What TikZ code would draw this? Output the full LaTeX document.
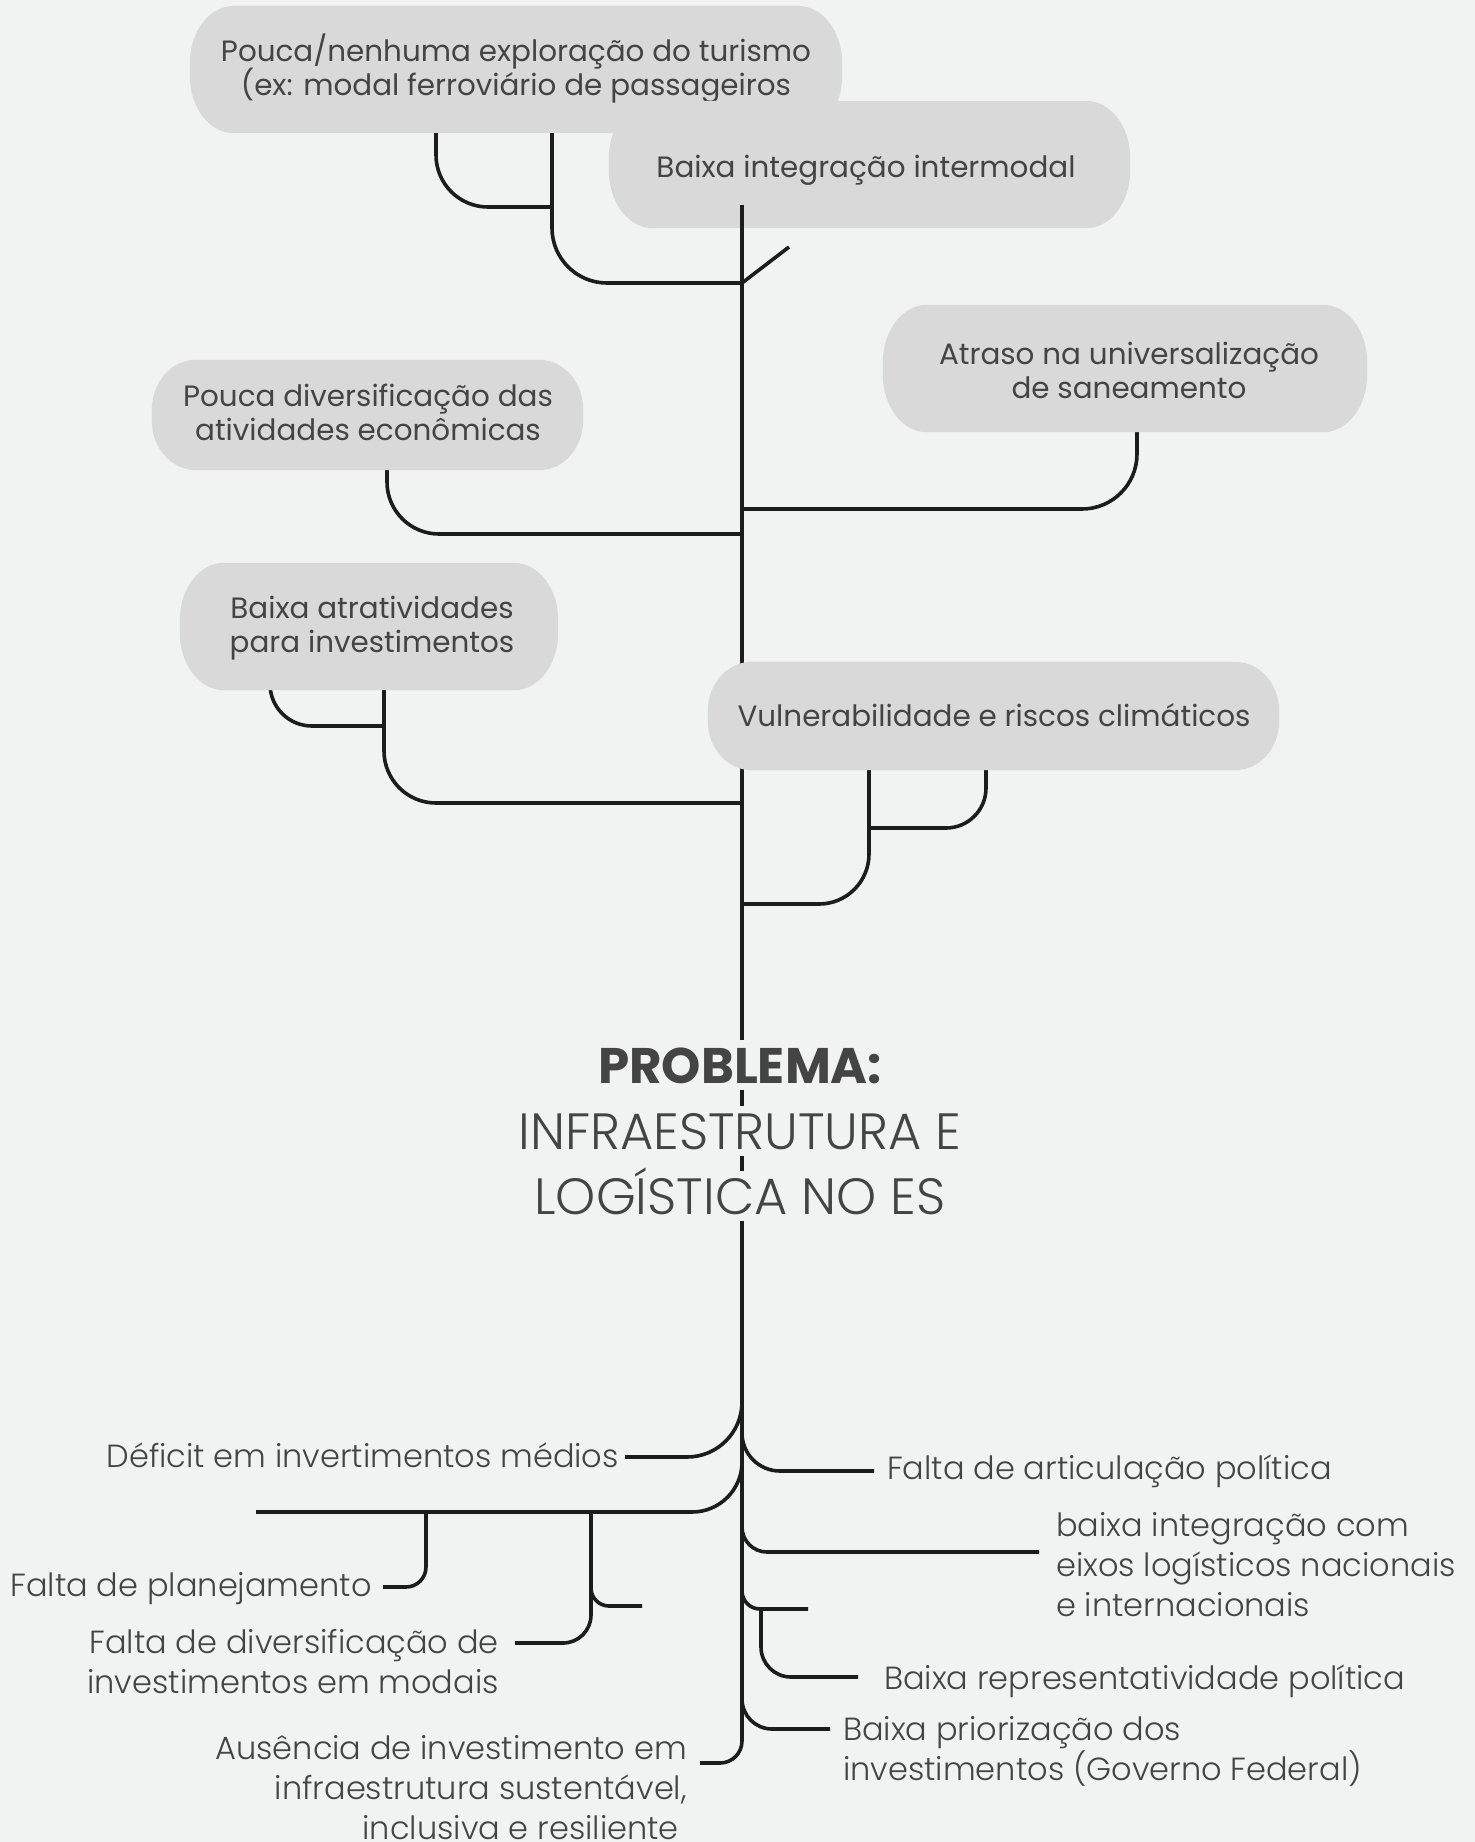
\documentclass[tikz,border=0pt]{standalone}
\usepackage{fontspec}
\setmainfont{Poppins}
\newfontfamily\poplight{Poppins Light}
\usetikzlibrary{calc}

\definecolor{paper}{HTML}{F1F3F2}
\definecolor{pillgray}{HTML}{D9D9D9}
\definecolor{ink}{HTML}{444444}
\definecolor{wire}{HTML}{1C1C1C}

% keep a fixed baseline distance even with tall glyphs
\newcommand\fixedlines{\lineskiplimit=-100pt\relax}

% soft pill: rectangle with elliptical corners, filled behind a placed node
\newcommand\pillfill[1]{%
  \fill[pillgray] let \p1=(#1.south west), \p2=(#1.north east),
      \n1={44pt}, \n2={0.45*(\y2-\y1)} in
    (\x1+\n1,\y1) -- (\x2-\n1,\y1)
    arc[start angle=-90, end angle=0, x radius=\n1, y radius=\n2]
    -- (\x2,\y2-\n2)
    arc[start angle=0, end angle=90, x radius=\n1, y radius=\n2]
    -- (\x1+\n1,\y2)
    arc[start angle=90, end angle=180, x radius=\n1, y radius=\n2]
    -- (\x1,\y1+\n2)
    arc[start angle=180, end angle=270, x radius=\n1, y radius=\n2]
    -- cycle;}

\begin{document}
\begin{tikzpicture}[x=1pt, y=-1pt,
  wire/.style={draw=wire, line width=3.6pt},
  pillbox/.style n args={2}{minimum width=#1, minimum height=#2, inner sep=0pt},
  % multi-line nodes sit on the baseline of their last line
  boxtext/.style={text=ink, font={\fontsize{29.4}{34}\selectfont\fixedlines},
                  align=center, anchor=base, inner sep=0pt},
  cause/.style={text=ink, font={\poplight\fontsize{32}{40}\selectfont\fixedlines},
                inner sep=0pt},
  headline/.style={text=ink, fill=paper, inner xsep=4pt, inner ysep=7pt,
                   text height=36pt, text depth=0pt, anchor=base}]

\useasboundingbox (0,0) rectangle (1475,1842);
\fill[paper] (0,0) rectangle (1475,1842);

% frames of the cause boxes
\node[pillbox={652pt}{127pt}] (tourism) at (516,69.5) {};
\node[pillbox={521pt}{127pt}] (intermodal) at (869.5,164.5) {};
\node[pillbox={484pt}{127pt}] (saneamento) at (1125,368.5) {};
\node[pillbox={431pt}{110pt}] (diversificacao) at (367.5,415) {};
\node[pillbox={378pt}{127pt}] (atratividade) at (369,626.5) {};
\node[pillbox={571pt}{108pt}] (vulnerabilidade) at (993.5,716) {};

% the two upper boxes lie under the stems
\pillfill{tourism}
\node[boxtext] (tourismtext) at (516,95) {Pouca/nenhuma exploração do turismo\\(ex: modal ferroviário de passageiros};
\pillfill{intermodal}
\node[boxtext] (intermodaltext) at (866,177) {Baixa integração intermodal};

% junctions
\coordinate (trunktop) at (742,205);
\coordinate (stemjoin) at (552,207);
\coordinate (forkjoin) at (742,283);
\coordinate (ausenciaend) at (700,1763);

% main trunk
\draw[wire, rounded corners=22pt] (trunktop) |- (ausenciaend);

% upper branches
\draw[wire, rounded corners=52pt] (tourism.south -| 436,0) |- (stemjoin);
\draw[wire, rounded corners=55pt] (tourism.south -| stemjoin) |- (forkjoin);
\draw[wire] (forkjoin) -- ++(47,-36);
\draw[wire, rounded corners=55pt] (saneamento -| 1137,0) |- (trunktop |- 0,509);
\draw[wire, rounded corners=52pt] (diversificacao -| 387,0) |- (trunktop |- 0,534);
\draw[wire, rounded corners=42pt] (atratividade -| 270,0) |- (384,726);
\draw[wire, rounded corners=52pt] (atratividade -| 384,0) |- (trunktop |- 0,803);
\draw[wire, rounded corners=40pt] (vulnerabilidade -| 986,0) |- (869,828);
\draw[wire, rounded corners=50pt] (vulnerabilidade -| 869,0) |- (trunktop |- 0,904);

% remaining boxes on top of their stems
\pillfill{saneamento}
\node[boxtext] (saneamentotext) at (1129,398) {Atraso na universalização\\de saneamento};
\pillfill{diversificacao}
\node[boxtext] (diversificacaotext) at (368,440) {Pouca diversificação das\\atividades econômicas};
\pillfill{atratividade}
\node[boxtext] (atratividadetext) at (372,652) {Baixa atratividades\\para investimentos};
\pillfill{vulnerabilidade}
\node[boxtext] (vulnerabilidadetext) at (994,726) {Vulnerabilidade e riscos climáticos};

% title over the trunk
\node[headline, font=\bfseries\fontsize{50}{60}\selectfont] (problem) at (740,1083) {PROBLEMA:};
\node[headline, font=\poplight\fontsize{51}{60}\selectfont] (titleA) at (740,1149) {INFRAESTRUTURA E};
\node[headline, font=\poplight\fontsize{51}{60}\selectfont] (titleB) at (740,1214) {LOGÍSTICA NO ES};

% lower branch ends
\coordinate (deficitend) at (625,1457);
\coordinate (crossbar) at (256,1512);
\coordinate (planejend) at (383,1587);
\coordinate (modaisend) at (515,1643);
\coordinate (spurend) at (642,1606);
\coordinate (articend) at (874,1471);
\coordinate (eixosend) at (1039,1552);
\coordinate (shortend) at (808,1609);
\coordinate (represend) at (858,1677);
\coordinate (priorend) at (830,1729);

% lower branches, left
\draw[wire, rounded corners=55pt] (trunktop |- 0,1380) |- (deficitend);
\draw[wire, rounded corners=50pt] (trunktop |- 0,1420) |- (crossbar);
\draw[wire, rounded corners=20pt] (crossbar -| 426,0) |- (planejend);
\draw[wire, rounded corners=28pt] (crossbar -| 591,0) |- (modaisend);
\draw[wire, rounded corners=18pt] (591,1560) |- (spurend);

% lower branches, right
\draw[wire, rounded corners=38pt] (trunktop |- 0,1400) |- (articend);
\draw[wire, rounded corners=25pt] (trunktop |- 0,1490) |- (eixosend);
\draw[wire, rounded corners=18pt] (trunktop |- 0,1560) |- (shortend);
\draw[wire, rounded corners=30pt] (shortend -| 761,0) |- (represend);
\draw[wire, rounded corners=30pt] (trunktop |- 0,1670) |- (priorend);

% lower labels
\node[cause, anchor=base east] (deficit) at (619,1467) {Déficit em invertimentos médios};
\node[cause, anchor=base east] (planejamento) at (372,1596) {Falta de planejamento};
\node[cause, anchor=base east, align=right] (modais) at (499,1693) {Falta de diversificação de\\investimentos em modais};
\node[cause, anchor=base east, align=right] (ausencia) at (687,1839) {Ausência de investimento em\\infraestrutura sustentável,\\inclusiva e resiliente\hspace*{8pt}};
\node[cause, anchor=base west] (articulacao) at (887,1479) {Falta de articulação política};
\node[cause, anchor=base west, align=left] (eixos) at (1056,1616) {baixa integração com\\eixos logísticos nacionais\\e internacionais};
\node[cause, anchor=base west] (representatividade) at (884,1689) {Baixa representatividade política};
\node[cause, anchor=base west, align=left] (priorizacao) at (843,1780) {Baixa priorização dos\\investimentos (Governo Federal)};

\end{tikzpicture}
\end{document}
